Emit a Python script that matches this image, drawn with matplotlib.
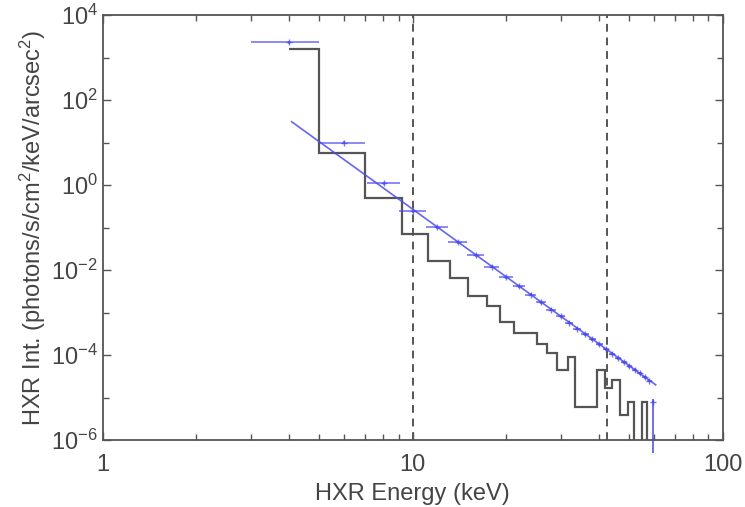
import numpy as np
import matplotlib
matplotlib.use('Agg')
import matplotlib.pyplot as plt
from matplotlib.ticker import LogLocator, NullFormatter, LogFormatterSciNotation, FixedLocator

plt.rcParams['font.family'] = ['Liberation Sans', 'DejaVu Sans']
plt.rcParams['mathtext.default'] = 'regular'

# black histogram (model / counts), keV bin edges and values
hist_edges = [4.0, 5.0, 7.0, 9.2, 11.2, 13.2, 15.1, 17.4, 19.1, 21.2, 25.2, 27.2,
              29.3, 31.6, 33.4, 39.4, 41.6, 44.1, 46.5, 49.5, 51.7, 55.0, 57.1, 58.0]
hist_vals = [1600, 5.7, 0.49, 0.070, 0.0163, 0.0064, 0.0024, 0.0014, 6.1e-4, 3.3e-4,
             1.8e-4, 1.1e-4, 4.4e-5, 9.1e-5, 6.1e-6, 4.4e-5, 1.66e-5, 2.57e-5,
             3.9e-6, 7.9e-6, 1e-9, 7.9e-6, 1e-9]

# blue data points
pt_e = [4, 6, 8.1, 10, 12, 14, 16, 18, 20, 22, 24, 26, 28, 30, 32, 34, 36, 38,
        40, 42, 44, 46, 48, 50, 52, 54, 56, 58]
pt_ew = [1, 1, 1, 1, 1, 1, 1, 1, 1, 1, 1, 1, 1, 1, 1, 1, 1, 1,
         1, 1, 1, 1, 1, 1, 1, 1, 1, 1]
pt_f = [2290, 10.0, 1.1, 0.24, 0.103, 0.0456, 0.0225, 0.0121, 6.9e-3, 4.2e-3,
        2.65e-3, 1.74e-3, 1.17e-3, 8.2e-4, 5.8e-4, 4.2e-4, 3.1e-4, 2.34e-4,
        1.79e-4, 1.38e-4, 1.08e-4, 8.5e-5, 6.8e-5, 5.5e-5, 4.5e-5, 3.7e-5,
        3.0e-5, 2.5e-5]

# last point with error bar falling off the bottom
last_e = 59.5
last_f = 7.9e-6
last_lo = 7.4e-6

# power-law fit line end points
fit_e = [4.07, 60.8]
fit_f = [31.0, 2.0e-5]

# vertical dashed energy markers
vlines = [10.0, 42.5]

blue = '#4a4aee'
grey = '#555555'

fig = plt.figure(figsize=(7.45, 5.07), dpi=100)
ax = fig.add_axes([0.138, 0.132, 0.832, 0.838])

ax.stairs(hist_vals, hist_edges, baseline=None, color=grey, lw=1.6)

ax.plot(fit_e, fit_f, '-', color=blue, lw=1.2, alpha=0.85)
ax.errorbar(pt_e, pt_f, xerr=pt_ew, yerr=[np.array(pt_f) * 0.08, np.array(pt_f) * 0.08],
            fmt='+', ms=4, color=blue, ecolor=blue, elinewidth=1.2, alpha=0.75, capsize=0)
ax.errorbar([last_e], [last_f], xerr=[[0.4], [0.4]], yerr=[[last_lo], [last_f * 0.2]],
            fmt='+', ms=4, color=blue, elinewidth=1.4, alpha=0.8, capsize=0, clip_on=False)

for v in vlines:
    ax.axvline(v, color=grey, ls=(0, (4, 3)), lw=1.4)

ax.set_xscale('log')
ax.set_yscale('log')
ax.set_xlim(1, 100)
ax.set_ylim(1e-6, 1e4)

ax.xaxis.set_major_locator(FixedLocator([1, 10, 100]))
ax.yaxis.set_major_locator(FixedLocator([1e-6, 1e-4, 1e-2, 1, 1e2, 1e4]))
ax.yaxis.set_minor_locator(FixedLocator([1e-5, 1e-3, 1e-1, 1e1, 1e3]))
ax.yaxis.set_minor_formatter(NullFormatter())
ax.yaxis.set_major_formatter(LogFormatterSciNotation(base=10))
ax.xaxis.set_major_formatter(plt.FuncFormatter(lambda v, p: '%g' % v))

ax.tick_params(which='both', direction='in', top=True, right=True, colors=grey,
               labelcolor='#444444', labelsize=17)
ax.tick_params(which='major', length=6, width=1)
ax.tick_params(which='minor', length=4, width=1)
ax.tick_params(axis='x', pad=10)
for s in ax.spines.values():
    s.set_color(grey)
    s.set_linewidth(1.3)

ax.set_xlabel('HXR Energy (keV)', fontsize=17, color='#444444', labelpad=5)
ax.set_ylabel('HXR Int. (photons/s/cm$^2$/keV/arcsec$^2$)', fontsize=17,
              color='#444444', labelpad=2)

plt.savefig('out.png', dpi=100)
